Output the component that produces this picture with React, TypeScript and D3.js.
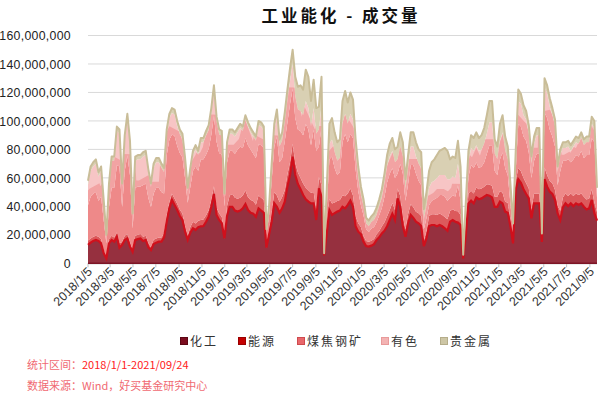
import React from 'react';
import * as d3 from 'd3';

const seriesNames = ['化工', '能源', '煤焦钢矿', '有色', '贵金属'];
const firstWeek = '2018-01-05';

// weekly volumes, millions of lots
const chem = [13,14.5,15.7,16.4,15.7,14,7,3.5,14,16.4, 15.2,18.7,11,13,16.4,17.5,11.7,8.1,16.4,17, 17.5,15.7,16.4,11.2,9.3,13.5,14.5,15.2,15.2,18.2, 29.2,38.6,44.5,41,37.4,33.2,30.4,22.2,16.4,21.5, 24.6,23.4,25.3,26,26.2,29.2,32.7,39.7,48.7,34, 30.4,28.1,17.5,33.2,39.7,39.7,37,36.3,37,38.6, 41.6,37.4,35.5,34.8,32.7,38.6,37,35.5,11,20, 29.2,42.1,39.7,35.5,38.6,43.3,53.8,62,74.9,62, 55.7,52,48,45,43.3,42.1,42.1,30.4,52.7,46.8, 5.5,21,37.4,34,35.2,36.3,37,39.7,38.6,41, 44,39.7,26,22.2,20.5,15.2,12.1,11.7,12.4,13.5, 16.4,18.2,21,22.9,26,30.4,34.8,30.4,45.6,39.7, 26,18.7,28.1,34,31.9,29.2,28.1,26.2,12,17.5, 26.2,26.9,26.9,26,26.9,26,24.6,22.9,29.2,30.4, 29.2,28.6,26.9,3.5,20,42.1,44,42.1,46.3,45, 45.6,46.8,48,47.4,46.3,39.7,39.7,43.3,42.1,36.3, 35.5,26,14,51.5,59,56.6,52,48.7,45.6,31.6, 42.1,42.1,42.1,15,59.2,53.8,50.3,48.7,44.5,35, 30.4,39.2,42.1,40.2,42.1,40.2,42.1,41,42.1,39.7, 37.8,38.6,44.5,35.2,30];
const energy = [3,3,3,3,3,3,2,1,3,3, 3,3,3,2,3,3,3,1.5,3,3, 3,3,3,3,2,3,3,3,3,3, 4.5,4.5,4.5,4.5,4.5,4.5,4.5,4,3,4, 4.5,4.5,4.5,4.5,4.5,4.5,4.5,5,5.5,5, 4.5,4.5,2.5,7,8,9,9,9,9,9, 9.5,9,9,9,8.5,9,9,9,2,4, 6,8,8,7.5,8,8,8.5,9,9,8.5, 8,8,8,8,8,7.5,8,7,8,8, 0.3,4,8,8,7.5,7.5,7.5,8,8.5,8, 8.5,8,7,6,5,4,3.5,3.5,3.5,3.5, 4,4.5,5,6,7,7,7.5,7,7,7.5, 7,5,6.5,7.5,7.5,7,7,7,4,5, 7,7.5,7.5,8,8,8,8,8,7.5,7.5, 7.5,8,7,0.5,4,7,7,7,7,7, 7,7,7.5,8,8,7,7,7.5,7.5,7, 7,5,3,6,8,8,8,7.5,7,6, 7,7,7,1.5,8,8,7.5,7.5,7,5.5, 6.5,7,7,7,7,7,7,7,7,7, 7,7,7.5,7.5,6];
const coal = [25,29.5,30.3,30.6,25.3,30,21,9.5,22.5,33.6, 34.8,47.3,54,24.5,45.6,55.5,47.3,14.9,33.6,34, 33.5,36.3,36.6,31.8,28.2,32.5,35.5,34.8,31.8,27.8, 42.3,43.9,41.5,44,40.6,39.8,39.6,33.8,23.1,28.5, 35.9,40.1,35.2,42.5,42.3,42.8,43.3,45.8,49.8,46.5, 42.6,43.9,20,30.8,31.3,30.3,31,34.7,36,33.4, 36.9,36.6,35.5,33.2,32.8,36.4,37,36.5,7,9.5, 22.8,31.9,41.3,28,27.4,34.7,36.7,41,39.1,31.5, 30.3,33,34,45,42.7,33.4,43.9,41.6,21.3,41.2, 0.5,14,27.6,33,24.3,18.2,19.5,37.3,43.9,36, 38.5,40.3,33,22.8,15.5,14.8,8.4,6.8,8.6,8.5, 8.6,11.3,13,18.1,24,25.6,24.7,22.6,10.4,22.8, 30,20.3,21.4,27.5,29.6,26.8,22.9,21.8,8,9.5, 7.8,9.6,10.6,12,13.1,14,14.4,13.1,9.3,10.1, 10.3,18.4,10.1,0.6,8,11.9,18,17.9,17.7,15, 15.4,17.2,21.5,27.6,28.7,18.3,15.3,22.2,28.4,23.7, 19.5,11,4,6.5,31,31.4,29,29.8,25.4,22.4, 22.9,27.9,27.9,1.5,38.8,40.2,36.2,32.8,30.5,14.5, 28.1,25.8,22.9,25.8,21.9,25.8,26.9,27,29.9,27.3, 31.2,30.4,36,42.3,10];
const nonferrous = [14,18,19,20,17,18,12,5,14,19, 19,24,23,14,22,26,21,9,19,19, 19,20,20,17,14,18,18,18,17,15, 15,15,15,15,14,13,13,11,8,10, 11,12,11,12,12,13,13,15,17,14, 13,13,7,11,12,12,12,12,13,12, 13,13,12,12,12,13,13,12,3,5, 9,12,14,11,12,13,15,16,17,15, 14,14,14,16,15,13,15,12,12,15, 0.3,6,11,12,11,10,10,13,14,13, 14,13,11,9,7,6,4,4,4.5,5, 5,6,7,9,11,12,12,11,10,12, 12,8,11,13,13,12,12,12,7,8, 12,13,13,14,14,14,15,15,13,13, 13,15,12,0.7,6,10,12,12,12,12, 12,13,14,16,16,12,11,13,14,12, 11,8,4,9,16,16,15,15,13,10, 12,13,13,2,18,17,16,15,14,9, 11,9,9,9,8,9,9,9,9,9, 9,9,10,10,5];
const precious = [3,3,3,3,3,3,2,1,2.5,3, 3,3,3,2.5,3,3,3,1.5,3,3, 3,3,3,3,2.5,3,3,3,3,3, 3,3,3.5,3.5,3.5,3.5,3.5,3,2.5,3, 3,3,3,3,3,3.5,3.5,3.5,4,3.5, 3.5,3.5,2,3,3,3,3,3,3,3, 3,3,3,3,3,3,3,3,1,1.5, 3,4,5,5,6,7,8,9,10,14, 16,18,18,22,22,18,20,18,16,20, 0.4,8,14,15,14,13,13,16,16,15, 15,14,10,8,6,5,4,4,4,4.5, 5,5,6,7,8,9,9,9,9,10, 10,7,9,10,10,10,10,11,7,10, 12,14,15,16,17,18,19,20,14,14, 14,16,12,0.7,5,8,9,9,9,9, 10,11,13,15,15,10,9,12,12,10, 9,6,3,5,8,7,7,6,6,5, 5,5,5,1,6,6,6,5,5,4, 4,4,4,4,4,4,4,4,4,4, 4,4,5,5,2];

const tickLabels = ['2018/1/5','2018/3/5','2018/5/5','2018/7/5','2018/9/5','2018/11/5','2019/1/5','2019/3/5','2019/5/5','2019/7/5','2019/9/5','2019/11/5','2020/1/5','2020/3/5','2020/5/5','2020/7/5','2020/9/5','2020/11/5','2021/1/5','2021/3/5','2021/5/5','2021/7/5','2021/9/5'];
const yTicks = [0, 20, 40, 60, 80, 100, 120, 140, 160];

const fills = ['#96303f', '#dc5a5c', '#ee8989', '#f7c5c5', '#d9d0b3'];
const legendColors = ['#7b0c1f', '#c40000', '#e8676b', '#f3b3b3', '#cdc6a5'];
const legendStrokes = ['#5c0614', '#9a0000', '#cf4a4e', '#e89a9a', '#b5ad8a'];
const legendX = [180, 238, 297, 381, 440];

export default function App() {
  const W = 608, H = 393;
  const left = 88, right = 597, top = 35.5, bottom = 263.3;
  const start = d3.timeParse('%Y-%m-%d')(firstWeek) as Date;
  const series = [chem, energy, coal, nonferrous, precious];
  const dates = chem.map((_, i) => d3.timeWeek.offset(start, i));
  const rows = dates.map((d, i) => {
    const r: any = { date: d };
    seriesNames.forEach((n, k) => { r[n] = series[k][i]; });
    return r;
  });
  const layers = d3.stack<any>().keys(seriesNames)(rows);
  const x = d3.scaleTime().domain([start, dates[dates.length - 1]]).range([left, right]);
  const y = d3.scaleLinear().domain([0, 160]).range([bottom, top]);
  const area = d3.area<any>().x((d: any) => x(d.data.date)).y0((d: any) => y(d[0])).y1((d: any) => y(d[1]));
  const topLine = d3.line<any>().x((d: any) => x(d.data.date)).y((d: any) => y(d[1]));
  const botLine = d3.line<any>().x((d: any) => x(d.data.date)).y((d: any) => y(d[0]));
  const parseTick = d3.timeParse('%Y/%m/%d');
  const fmt = d3.format(',');

  return (
    <svg width={W} height={H} style={{ position: 'absolute', left: 0, top: 0, background: '#fff' }}>
      <defs>
        <clipPath id="clipNF"><path d={area(layers[3] as any) || ''} /></clipPath>
      </defs>
      <text x={341} y={22} textAnchor="middle" fontFamily="'Noto Sans CJK SC', sans-serif" fontWeight="bold" fontSize={16.5} letterSpacing={3} fill="#111">工业能化 - 成交量</text>
      {yTicks.map(t => (
        <g key={t}>
          <line x1={left} x2={right} y1={y(t)} y2={y(t)} stroke="#d9d9d9" strokeWidth={1} />
          <text x={71} y={y(t)} dy="0.38em" textAnchor="end" fontFamily="'Liberation Sans', Arial, sans-serif" fontSize={12.3} letterSpacing={0.3} fill="#222">{fmt(t * 1e6)}</text>
        </g>
      ))}
      <line x1={left} x2={right} y1={bottom + 0.5} y2={bottom + 0.5} stroke="#bfbfbf" />
      {tickLabels.map(l => {
        const tx = x(parseTick(l) as Date);
        return (
          <g key={l}>
            <line x1={tx} x2={tx} y1={bottom} y2={bottom + 4} stroke="#bfbfbf" />
            <text transform={`translate(${tx + 5},${bottom + 9}) rotate(-45)`} textAnchor="end" fontFamily="'Liberation Sans', Arial, sans-serif" fontSize={12.5} fill="#333">{l}</text>
          </g>
        );
      })}
      {layers.map((layer, k) => (
        <path key={seriesNames[k]} d={area(layer as any) || ''} fill={fills[k]} />
      ))}
      <path d={botLine(layers[3] as any) || ''} fill="none" stroke="#f2a3a3" strokeWidth={12} clipPath="url(#clipNF)" />
      <path d={topLine(layers[0] as any) || ''} fill="none" stroke="#d0101c" strokeWidth={2.2} />
      <path d={topLine(layers[4] as any) || ''} fill="none" stroke="#c9bd98" strokeWidth={2} strokeLinejoin="round" />
      <line x1={left} x2={right} y1={bottom} y2={bottom} stroke="#7d1526" strokeWidth={1.5} />
      {seriesNames.map((n, k) => (
        <g key={n}>
          <rect x={legendX[k] + 0.5} y={337.5} width={7} height={7} fill={legendColors[k]} stroke={legendStrokes[k]} />
          <text x={legendX[k] + 10} y={345.5} fontFamily="'Noto Sans CJK SC', sans-serif" fontSize={12} letterSpacing={2} fill="#333">{n}</text>
        </g>
      ))}
      <text x={27} y={369} fontFamily="'Noto Sans CJK SC', sans-serif" fontSize={11}>
        <tspan fill="#f06a72">统计区间：</tspan><tspan fill="#ff2020">2018/1/1-2021/09/24</tspan>
      </text>
      <text x={27} y={390} fontFamily="'Noto Sans CJK SC', sans-serif" fontSize={11} fill="#f06a72">数据来源：Wind，好买基金研究中心</text>
    </svg>
  );
}
